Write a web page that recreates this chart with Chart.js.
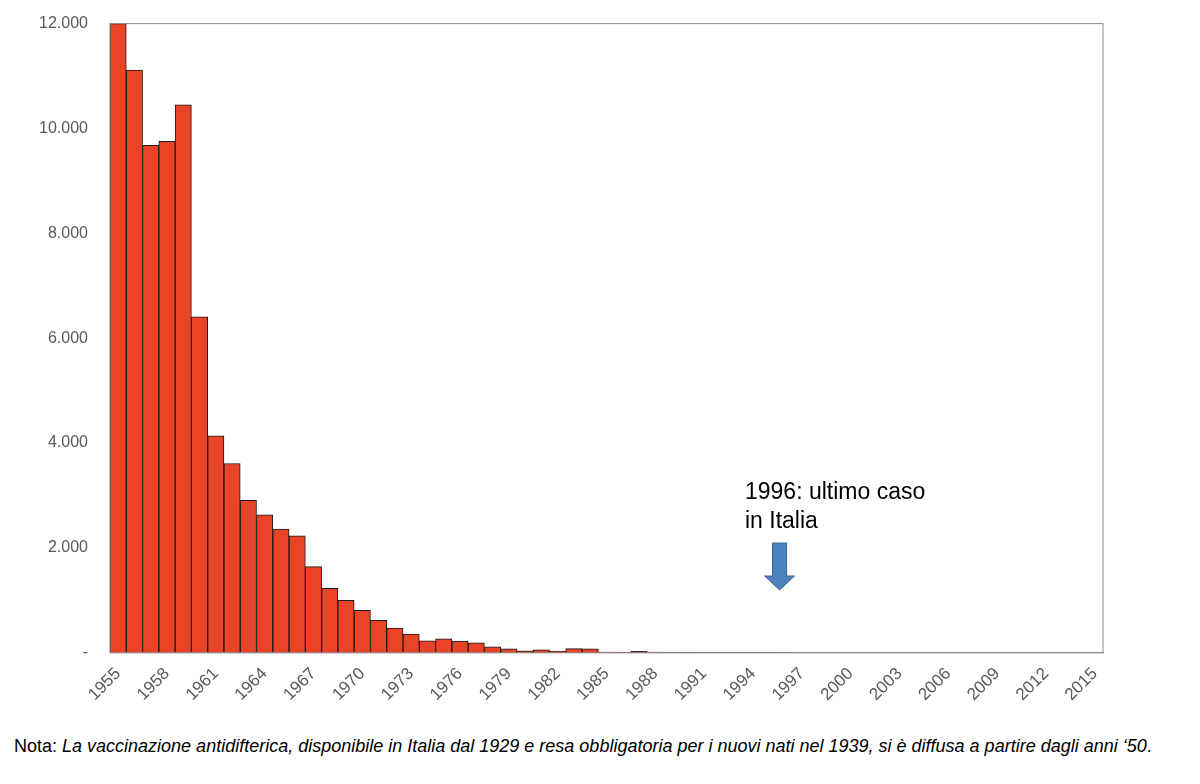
<!DOCTYPE html>
<html>
<head>
<meta charset="utf-8">
<script src="https://cdn.jsdelivr.net/npm/chart.js@4"></script>
<style>
body{margin:0;background:#fff;font-family:"Liberation Sans",Arial,sans-serif;}
#wrap{position:absolute;left:0;top:0;width:1200px;height:708px;}
#note{position:absolute;left:14px;top:735px;width:1140px;font-size:18px;line-height:23px;color:#000;}
</style>
</head>
<body>
<div id="wrap"><canvas id="chart"></canvas></div>
<div id="note">Nota: <i>La vaccinazione antidifterica, disponibile in Italia dal 1929 e resa obbligatoria per i nuovi nati nel 1939, si è diffusa a partire dagli anni ‘50</i>.</div>
<script>
const years = [];
for (let y = 1955; y <= 2015; y++) years.push(String(y));

const cases = [12000, 11115, 9680, 9755, 10450, 6410, 4140, 3610, 2910, 2630,
  2360, 2230, 1645, 1230, 1000, 810, 620, 470, 360, 230,
  265, 225, 190, 115, 75, 40, 55, 35, 80, 75,
  15, 10, 30, 15, 5, 8, 5, 3, 5, 3,
  5, 2, 0, 0, 0, 0, 0, 0, 0, 0,
  0, 0, 0, 0, 0, 0, 0, 0, 0, 0, 0];

const yTicks = [0, 2000, 4000, 6000, 8000, 10000, 12000];
const noteLines = ["1996: ultimo caso", "in Italia"];

const annot = {
  id: "annot",
  afterDraw(c) {
    const ctx = c.ctx;
    const x = c.scales.x.getPixelForValue(years.indexOf("1996")) - 6;
    ctx.save();
    ctx.fillStyle = "#000";
    ctx.font = "23px 'Liberation Sans', Arial, sans-serif";
    ctx.textBaseline = "alphabetic";
    noteLines.forEach((t, i) => ctx.fillText(t, 745, 499 + i * 29));
    ctx.fillStyle = "#4f81bd";
    ctx.strokeStyle = "#3a6496";
    ctx.lineWidth = 1;
    ctx.beginPath();
    ctx.moveTo(x - 7, 543); ctx.lineTo(x + 7, 543); ctx.lineTo(x + 7, 576);
    ctx.lineTo(x + 15, 576); ctx.lineTo(x, 590); ctx.lineTo(x - 15, 576);
    ctx.lineTo(x - 7, 576); ctx.closePath();
    ctx.fill(); ctx.stroke();
    const a = c.chartArea;
    ctx.strokeStyle = "#8c8c8c";
    ctx.strokeRect(a.left, a.top, a.right - a.left, a.bottom - a.top);
    ctx.restore();
  }
};

new Chart(document.getElementById("chart"), {
  type: "bar",
  data: {
    labels: years,
    datasets: [{
      data: cases,
      backgroundColor: "#e94328",
      borderColor: "#1a1a1a",
      borderWidth: 1,
      barPercentage: 1,
      categoryPercentage: 1
    }]
  },
  options: {
    responsive: true,
    maintainAspectRatio: false,
    animation: false,
    layout: { padding: { left: 0, right: 97, top: 17, bottom: 0 } },
    plugins: { legend: { display: false }, tooltip: { enabled: false } },
    scales: {
      x: {
        grid: { display: false },
        border: { color: "#8c8c8c" },
        ticks: {
          autoSkip: false, maxRotation: 45, minRotation: 45,
          color: "#595959", font: { size: 17, family: "Liberation Sans" },
          callback: (v, i) => (i % 3 === 0 ? years[i] : "")
        }
      },
      y: {
        min: 0, max: 12000,
        afterBuildTicks: s => { s.ticks = yTicks.map(v => ({ value: v })); },
        grid: { display: false },
        border: { color: "#8c8c8c" },
        ticks: {
          color: "#595959", font: { size: 16, family: "Liberation Sans" }, padding: 14,
          callback: v => (v === 0 ? "-" : v.toLocaleString("it-IT"))
        },
        afterFit: s => { s.width = 110; }
      }
    }
  },
  plugins: [annot]
});
</script>
</body>
</html>
